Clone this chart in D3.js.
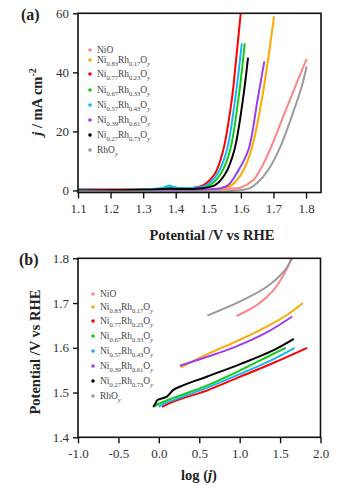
<!DOCTYPE html>
<html>
<head>
<meta charset="utf-8">
<script src="https://cdn.jsdelivr.net/npm/d3@7"></script>
<style>
  body{margin:0;background:#fff;}
  svg{display:block;}
  text{font-family:"Liberation Serif",serif;}
</style>
</head>
<body>
<svg id="chart" width="339" height="492"></svg>
<script>
// legend names: [base, sub, base, sub, base, sub]
var names=[
  ["NiO"],
  ["Ni","0.83","Rh","0.17","O","y"],
  ["Ni","0.77","Rh","0.23","O","y"],
  ["Ni","0.67","Rh","0.33","O","y"],
  ["Ni","0.57","Rh","0.43","O","y"],
  ["Ni","0.39","Rh","0.61","O","y"],
  ["Ni","0.27","Rh","0.73","O","y"],
  ["RhO","y"]
];
var colors=["#ff8585","#ffa800","#ff0000","#11cc11","#19b4f5","#9b3ff0","#000000","#9a9a9a"];

// panel (a): polarisation curves, [potential V, j mA cm-2]
var lsvNiO =[[1.10,0.2],[1.40,0.2],[1.55,0.5],[1.60,1.0],[1.638,3.5],[1.659,6.9],[1.689,13.7],[1.730,25],[1.771,36.3],[1.802,44.6]];
var lsvNi83=[[1.10,0.0],[1.40,0.1],[1.50,0.3],[1.55,0.8],[1.572,1.8],[1.603,5.8],[1.632,13.7],[1.664,30.6],[1.702,59]];
var lsvNi77=[[1.10,0.3],[1.30,0.4],[1.40,0.6],[1.45,0.8],[1.485,1.8],[1.521,5.8],[1.546,13.7],[1.572,30.6],[1.586,45],[1.600,60.5]];
var lsvNi67=[[1.10,0.2],[1.30,0.3],[1.365,0.7],[1.385,1.1],[1.41,0.8],[1.45,0.7],[1.505,1.8],[1.539,5.8],[1.567,13.7],[1.592,30.6],[1.612,49.8]];
var lsvNi57=[[1.10,0.2],[1.30,0.3],[1.36,0.8],[1.378,1.7],[1.40,0.9],[1.45,0.8],[1.495,1.8],[1.529,5.8],[1.557,13.7],[1.582,30.6],[1.603,49.8]];
var lsvNi39=[[1.10,0.0],[1.40,0.1],[1.50,0.3],[1.54,0.8],[1.561,1.8],[1.587,5.8],[1.623,13.7],[1.651,30.6],[1.672,43.7]];
var lsvNi27=[[1.10,0.0],[1.30,0.2],[1.38,0.6],[1.45,0.5],[1.521,1.8],[1.553,5.8],[1.580,13.7],[1.606,30.6],[1.622,45]];
var lsvRhO =[[1.10,-0.3],[1.50,-0.3],[1.60,0.1],[1.628,0.8],[1.649,2.4],[1.684,6.9],[1.720,14.5],[1.756,25],[1.785,34.5],[1.802,42]];
var lsvData=[lsvNiO,lsvNi83,lsvNi77,lsvNi67,lsvNi57,lsvNi39,lsvNi27,lsvRhO];

// panel (b): Tafel plots, [log j, potential V]
var tafNiO =[[0.96,1.671],[1.215,1.696],[1.42,1.729],[1.545,1.763],[1.63,1.796],[1.66,1.815]];
var tafNi83=[[0.27,1.556],[0.6,1.586],[0.93,1.612],[1.34,1.648],[1.6,1.675],[1.78,1.700]];
var tafNi77=[[0.04,1.468],[0.18,1.480],[0.6,1.505],[1.0,1.535],[1.4,1.565],[1.835,1.600]];
var tafNi67=[[-0.07,1.468],[0.0,1.475],[0.18,1.488],[0.6,1.516],[1.0,1.549],[1.4,1.585],[1.57,1.600]];
var tafNi57=[[0.0,1.468],[0.04,1.473],[0.3,1.491],[0.6,1.511],[1.0,1.541],[1.4,1.573],[1.68,1.600]];
var tafNi39=[[0.26,1.560],[0.6,1.580],[0.93,1.601],[1.34,1.635],[1.65,1.670]];
var tafNi27=[[-0.07,1.468],[-0.04,1.476],[-0.02,1.483],[0.1,1.491],[0.18,1.506],[0.3,1.516],[0.6,1.536],[1.0,1.563],[1.4,1.593],[1.67,1.620]];
var tafRhO =[[0.6,1.672],[1.0,1.703],[1.34,1.737],[1.545,1.770],[1.65,1.800],[1.68,1.812]];
var tafData=[tafNiO,tafNi83,tafNi77,tafNi67,tafNi57,tafNi39,tafNi27,tafRhO];

var ticksAx=[1.1,1.2,1.3,1.4,1.5,1.6,1.7,1.8];
var ticksAy=[0,20,40,60];
var ticksBx=[-1.0,-0.5,0.0,0.5,1.0,1.5,2.0];
var ticksBy=[1.4,1.5,1.6,1.7,1.8];

var svg=d3.select("#chart");

// plain hyphen instead of unicode minus, like the original
var fmt1=function(d){return d3.format(".1f")(d).replace("\u2212","-");};

function drawPanel(opt){
    var g=svg.append("g");
    var x=opt.x, y=opt.y;
    var x0=x.range()[0], x1=x.range()[1], y0=y.range()[0], y1=y.range()[1];

    g.append("clipPath").attr("id","clip"+opt.id)
        .append("rect").attr("x",x0).attr("y",y1).attr("width",x1-x0).attr("height",y0-y1);

    var line=d3.line()
        .x(function(d){return x(d[0]);})
        .y(function(d){return y(d[1]);})
        .curve(d3.curveCatmullRom.alpha(0.5));

    g.append("g").attr("clip-path","url(#clip"+opt.id+")")
        .selectAll("path").data(opt.data).enter().append("path")
        .attr("d",line)
        .attr("fill","none")
        .attr("stroke",function(d,i){return colors[i];})
        .attr("stroke-width",2)
        .attr("stroke-linejoin","round");

    var xa=g.append("g").attr("transform","translate(0,"+y0+")")
        .call(d3.axisBottom(x).tickValues(opt.xt).tickFormat(fmt1).tickSize(6).tickSizeOuter(0).tickPadding(5));
    var ya=g.append("g").attr("transform","translate("+x0+",0)")
        .call(d3.axisLeft(y).tickValues(opt.yt).tickFormat(opt.yf).tickSize(5).tickSizeOuter(0).tickPadding(4));
    [xa,ya].forEach(function(a){
        a.attr("font-family",null);
        a.select(".domain").remove();
        a.selectAll("line").attr("stroke","#111").attr("stroke-width",1.4);
        a.selectAll("text").attr("font-size",13).attr("fill","#333");
    });

    g.append("rect").attr("x",x0).attr("y",y1).attr("width",x1-x0).attr("height",y0-y1)
        .attr("fill","none").attr("stroke","#111").attr("stroke-width",1.6);

    g.append("text").attr("x",opt.lx).attr("y",opt.ly)
        .attr("font-size",16).attr("font-weight","bold").attr("fill","#222").text(opt.label);

    // legend
    var leg=g.append("g");
    opt.legY.forEach(function(ly,i){
        leg.append("circle").attr("cx",opt.legX).attr("cy",ly).attr("r",1.8).attr("fill",colors[i]);
        var t=leg.append("text").attr("x",opt.legX+7).attr("y",ly+3)
            .attr("font-size",9.5).attr("fill","#444");
        names[i].forEach(function(s,k){
            var sub=(k%2===1);
            var ts=t.append("tspan").text(s);
            if(sub){
                ts.attr("font-size",6.5).attr("dy",2.5);
                if(s==="y") ts.attr("font-style","italic");
            } else if(k>0){
                ts.attr("dy",-2.5);
            }
        });
    });
    return g;
}

var ga=drawPanel({
    id:"a", data:lsvData,
    x:d3.scaleLinear().domain([1.1,1.846]).range([78,321]),
    y:d3.scaleLinear().domain([-0.7,60]).range([192.5,13.3]),
    xt:ticksAx, yt:ticksAy, yf:d3.format("d"),
    label:"(a)", lx:21, ly:20,
    legX:90, legY:[50,60,74,90,105,120,135,150]
});
ga.append("text").attr("x",212).attr("y",240).attr("text-anchor","middle")
    .attr("font-size",14.5).attr("font-weight","bold").attr("fill","#222")
    .text("Potential /V vs RHE");
var yt=ga.append("text").attr("transform","translate(42,102) rotate(-90)")
    .attr("text-anchor","middle").attr("font-size",14.5).attr("font-weight","bold").attr("fill","#222");
yt.append("tspan").attr("font-style","italic").text("j");
yt.append("tspan").text(" / mA cm");
yt.append("tspan").attr("font-size",10).attr("dy",-6).text("-2");

var gb=drawPanel({
    id:"b", data:tafData,
    x:d3.scaleLinear().domain([-1,2]).range([78,320.5]),
    y:d3.scaleLinear().domain([1.4,1.8]).range([437.3,258.3]),
    xt:ticksBx, yt:ticksBy, yf:fmt1,
    label:"(b)", lx:19, ly:265,
    legX:93, legY:[294,307,321,336,351,366,381,396]
});
gb.append("text").attr("x",199).attr("y",480).attr("text-anchor","middle")
    .attr("font-size",14.5).attr("font-weight","bold").attr("fill","#222")
    .call(function(t){
        t.append("tspan").text("log (");
        t.append("tspan").attr("font-style","italic").text("j");
        t.append("tspan").text(")");
    });
gb.append("text").attr("transform","translate(40,352) rotate(-90)")
    .attr("text-anchor","middle").attr("font-size",14.5).attr("font-weight","bold").attr("fill","#222")
    .text("Potential /V vs RHE");
</script>
</body>
</html>
